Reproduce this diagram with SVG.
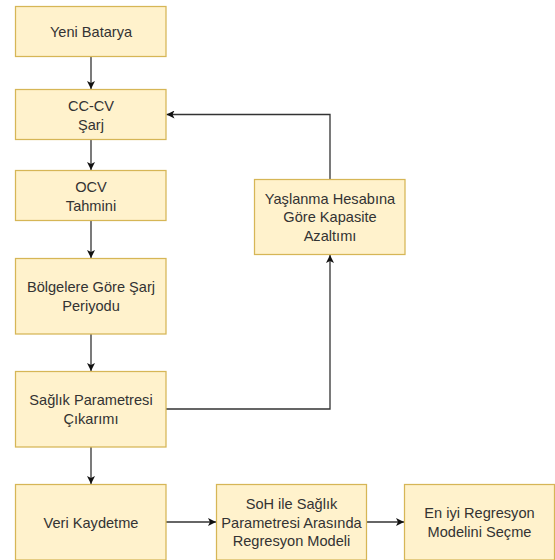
<svg xmlns="http://www.w3.org/2000/svg" width="555" height="560" viewBox="0 0 555 560">
<style>
.box{fill:#fff2cc;stroke:#d6b656;stroke-width:1.25}
.t{font-family:"Liberation Sans",Arial,sans-serif;font-size:14.6px;fill:#333;text-anchor:middle}
.c{fill:none;stroke:#333;stroke-width:1.3}
</style>
<defs>
<marker id="ah" viewBox="0 0 10 10" refX="10" refY="5" markerWidth="8" markerHeight="8" markerUnits="userSpaceOnUse" orient="auto">
<path d="M0,0 L10,5 L0,10 L2.5,5 Z" fill="#111"/>
</marker>
</defs>
<rect width="555" height="560" fill="#fff"/>
<g id="connectors">
<path class="c" d="M91,56 V89" marker-end="url(#ah)"/>
<path class="c" d="M91,139.5 V170" marker-end="url(#ah)"/>
<path class="c" d="M91,220.5 V258" marker-end="url(#ah)"/>
<path class="c" d="M91,334 V371" marker-end="url(#ah)"/>
<path class="c" d="M91,447 V484" marker-end="url(#ah)"/>
<path class="c" d="M166,409 H330 V255" marker-end="url(#ah)"/>
<path class="c" d="M330,179.5 V114.5 H166.5" marker-end="url(#ah)"/>
<path class="c" d="M166,522 H216" marker-end="url(#ah)"/>
<path class="c" d="M366.5,522 H404" marker-end="url(#ah)"/>
</g>
<g id="n1"><rect class="box" x="15.5" y="6.5" width="150.5" height="50"/><text class="t" x="91" y="36.5">Yeni Batarya</text></g>
<g id="n2"><rect class="box" x="15.5" y="89.5" width="150.5" height="50"/><text class="t" x="91" y="111">CC-CV</text><text class="t" x="91" y="129.5">Şarj</text></g>
<g id="n3"><rect class="box" x="15.5" y="170.5" width="150.5" height="50"/><text class="t" x="91" y="192">OCV</text><text class="t" x="91" y="210.5">Tahmini</text></g>
<g id="n4"><rect class="box" x="15.5" y="258.5" width="150.5" height="75.5"/><text class="t" x="91" y="292">Bölgelere Göre Şarj</text><text class="t" x="91" y="310.5">Periyodu</text></g>
<g id="n5"><rect class="box" x="15.5" y="371.5" width="150.5" height="75.5"/><text class="t" x="91" y="405">Sağlık Parametresi</text><text class="t" x="91" y="423.5">Çıkarımı</text></g>
<g id="n6"><rect class="box" x="15.5" y="484.5" width="150.5" height="75.5"/><text class="t" x="91" y="527.5">Veri Kaydetme</text></g>
<g id="n7"><rect class="box" x="216.5" y="484.5" width="150" height="75.5"/><text class="t" x="291.5" y="509">SoH ile Sağlık</text><text class="t" x="291.5" y="527.5">Parametresi Arasında</text><text class="t" x="291.5" y="546">Regresyon Modeli</text></g>
<g id="n8"><rect class="box" x="404.5" y="484.5" width="150" height="75.5"/><text class="t" x="479.5" y="518">En iyi Regresyon</text><text class="t" x="479.5" y="536.5">Modelini Seçme</text></g>
<g id="n9"><rect class="box" x="254.5" y="179.5" width="150.5" height="75"/><text class="t" x="330" y="203.5">Yaşlanma Hesabına</text><text class="t" x="330" y="222">Göre Kapasite</text><text class="t" x="330" y="240.5">Azaltımı</text></g>
</svg>
